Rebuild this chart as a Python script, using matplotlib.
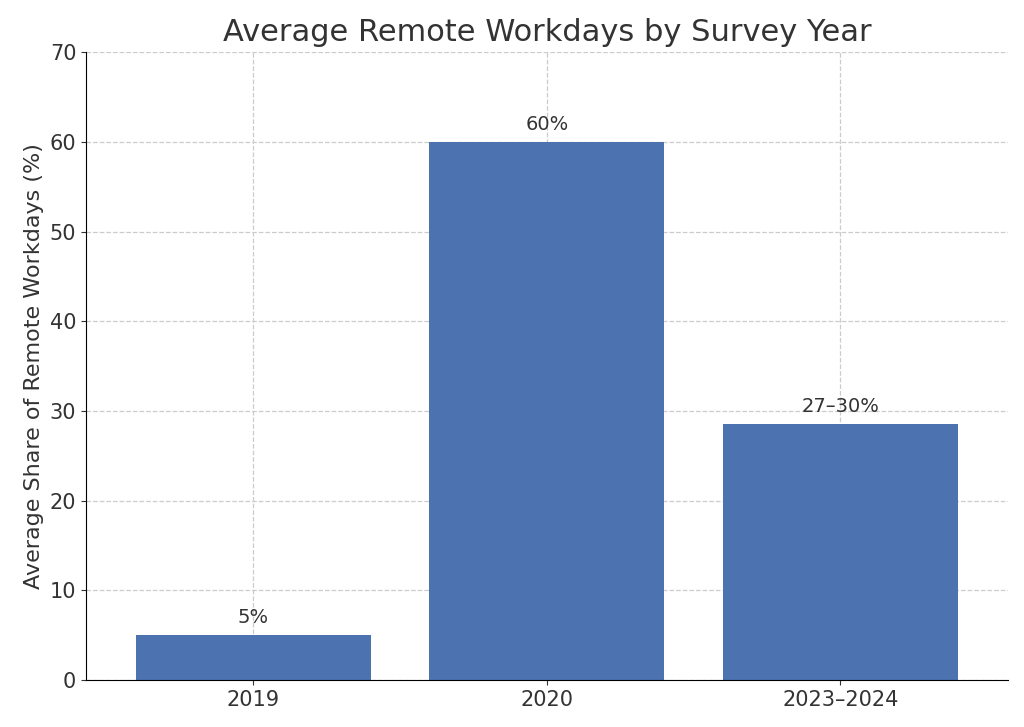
import matplotlib
matplotlib.use("Agg")
import matplotlib.pyplot as plt

categories = ["2019", "2020", "2023–2024"]
values = [5, 60, 28.5]
labels = ["5%", "60%", "27–30%"]

fig = plt.figure(figsize=(10.24, 7.27), dpi=100)
ax = fig.add_axes([0.084, 0.0646, 0.900, 0.8634])
bars = ax.bar(categories, values, color="#4C72B0", width=0.8, zorder=2)
for b, l in zip(bars, labels):
    ax.text(b.get_x() + b.get_width()/2, b.get_height() + 0.9, l,
            ha="center", va="bottom", fontsize=14, color="#333333")
ax.set_ylim(0, 70)
ax.set_xlim(-0.57, 2.57)
ax.set_title("Average Remote Workdays by Survey Year", fontsize=22, color="#333333", pad=8)
ax.set_ylabel("Average Share of Remote Workdays (%)", fontsize=16, color="#333333")
ax.tick_params(labelsize=15, colors="#333333")
ax.grid(True, linestyle="--", color="#cccccc", linewidth=0.9, zorder=0)
ax.set_axisbelow(True)
for s in ["top", "right"]:
    ax.spines[s].set_visible(False)
fig.savefig("out.png", dpi=100)
